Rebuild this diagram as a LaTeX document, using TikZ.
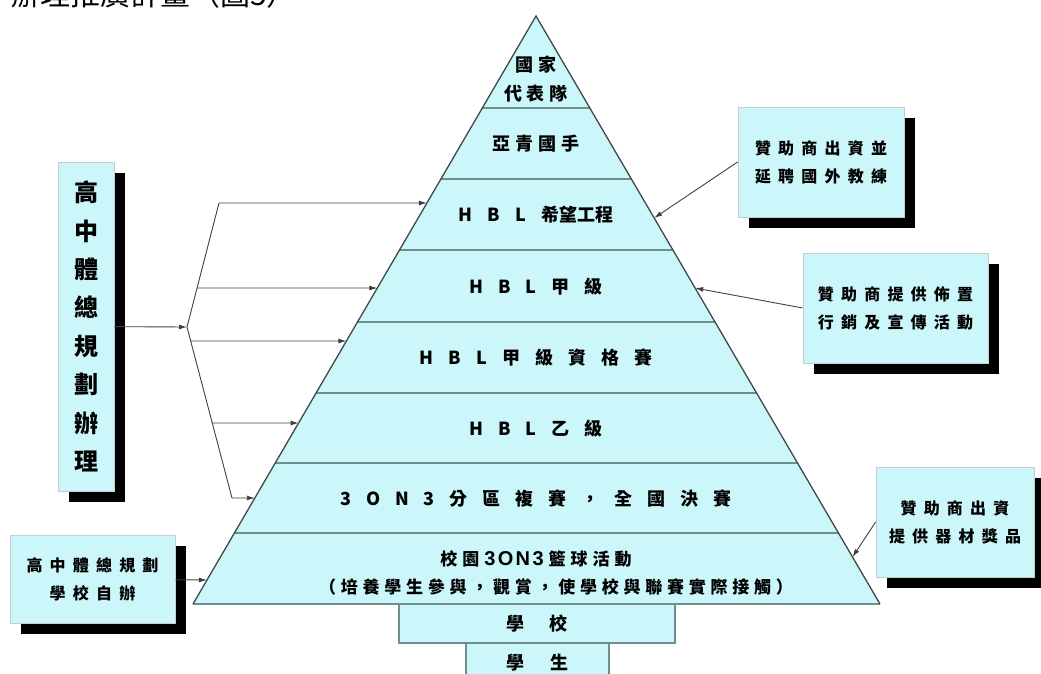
\documentclass[tikz,border=0pt]{standalone}
\usepackage{fontspec}
\newfontfamily\cjk{Noto Sans CJK TC}
\newfontfamily\cjksp[LetterSpace=45]{Noto Sans CJK TC}
\newfontfamily\cjkbtm[LetterSpace=28]{Noto Sans CJK TC}
\newfontfamily\numfont[LetterSpace=12]{Liberation Sans}
\usetikzlibrary{calc,shadows,arrows.meta}
\definecolor{pyrfill}{RGB}{204,247,250}
\definecolor{boxline}{RGB}{196,206,206}
\definecolor{layline}{RGB}{112,142,142}
\definecolor{edgeline}{RGB}{62,72,72}
\definecolor{linkgray}{RGB}{64,64,64}
\tikzset{
  sidebox/.style={draw=boxline,fill=pyrfill,line width=0.8pt,inner sep=0pt,
    align=center,drop shadow={shadow xshift=11pt,shadow yshift=-11pt,fill=black,opacity=1},
    font={\cjksp\bfseries\fontsize{16}{28}\selectfont}},
  lowbox/.style={draw=layline,fill=pyrfill,line width=1.2pt,inner sep=0pt,
    font={\cjk\bfseries\fontsize{18}{20}\selectfont\spaceskip=26pt\relax}},
  laytext/.style={inner sep=0pt,align=center,
    font={\cjk\bfseries\fontsize{18}{29}\selectfont\spaceskip=15pt\relax}},
  tighttext/.style={laytext,font={\cjk\bfseries\fontsize{18}{29}\selectfont\spaceskip=5pt\relax}},
  arr/.style={draw=linkgray,line width=0.9pt,-{Latex[length=8pt,width=5pt]}}
}
\begin{document}
\begin{tikzpicture}[x=1pt,y=-1pt]
\useasboundingbox (0,0) rectangle (1041,673);
\node[anchor=base west,inner sep=0pt,font=\cjk\fontsize{30}{32}\selectfont] (title)
  at (10,5) {辦理推廣計畫（圖5）};
% pyramid
\coordinate (A) at (536,16);
\coordinate (L) at (193,604);
\coordinate (R) at (880,604);
\fill[pyrfill] (A) -- (L) -- (R) -- cycle;
\foreach \f in {0.1565,0.2772,0.398,0.5204,0.6412,0.760,0.8793}
  \draw[layline,line width=1.5pt] ($(A)!\f!(L)$) -- ($(A)!\f!(R)$);
\draw[layline,line width=1.5pt] (L) -- (R);
\draw[edgeline,line width=1.3pt] (L) -- (A) -- (R);
\node[lowbox,minimum width=143pt,minimum height=40pt] (student) at (537.5,663) {學 生};
\node[lowbox,minimum width=276pt,minimum height=39pt] (school) at (537,623.5) {學 校};
\node[tighttext] (team) at (536,79.5) {國 家\\代 表 隊};
\node[tighttext] (youth) at (536,143.5) {亞 青 國 手};
\node[laytext] (hope) at (536,214.5) {H B L 希望工程};
\node[laytext] (hblA) at (536,287) {H B L 甲 級};
\node[laytext] (hblQ) at (536,357.5) {H B L 甲 級 資 格 賽};
\node[laytext] (hblB) at (536,428.5) {H B L 乙 級};
\node[laytext] (final) at (536,499) {3 O N 3 分 區 複 賽 ， 全 國 決 賽};
\node[anchor=base,inner sep=0pt,font={\cjk\bfseries\fontsize{17}{20}\selectfont\spaceskip=5pt\relax}]
  (campus) at (536,565) {校 園 {\numfont\bfseries\fontsize{20}{20}\selectfont 3ON3} 籃 球 活 動};
\node[inner sep=0pt,font=\cjkbtm\bfseries\fontsize{17}{20}\selectfont] (aim)
  at (556,587) {（培養學生參與，觀賞，使學校與聯賽實際接觸）};
% boxes round it
\node[sidebox,minimum width=56pt,minimum height=329pt,
  font=\cjk\bfseries\fontsize{24}{38.4}\selectfont] (plan) at (86,326.5)
  {高\\中\\體\\總\\規\\劃\\辦\\理};
\node[sidebox,minimum width=165pt,minimum height=88pt] (self) at (92.5,579)
  {高中體總規劃\\學校自辦};
\node[sidebox,minimum width=166pt,minimum height=110pt] (spA) at (821,162)
  {贊助商出資並\\延聘國外教練};
\node[sidebox,minimum width=185pt,minimum height=110pt] (spB) at (895.5,308)
  {贊助商提供佈置\\行銷及宣傳活動};
\node[sidebox,minimum width=158pt,minimum height=110pt] (spC) at (955,522)
  {贊助商出資\\提供器材獎品};
% connectors
\coordinate (J) at (187,327);
\coordinate (U) at (219,203);
\coordinate (D) at (232,498);
\coordinate (l203) at ($(A)!0.318!(L)$);
\coordinate (l288) at ($(A)!0.4626!(L)$);
\coordinate (l341) at ($(A)!0.5527!(L)$);
\coordinate (l423) at ($(A)!0.6922!(L)$);
\coordinate (l498) at ($(A)!0.8197!(L)$);
\coordinate (l580) at ($(A)!0.9592!(L)$);
\coordinate (r218) at ($(A)!0.3435!(R)$);
\coordinate (r288) at ($(A)!0.4626!(R)$);
\coordinate (r557) at ($(A)!0.9201!(R)$);
\draw[arr] (plan) -- (J);
\draw[linkgray,line width=0.9pt] (U) -- (J) -- (D);
\draw[arr] (U) -- (l203);
\draw[arr] ($(J)!0.3145!(U)$) -- (l288);
\draw[arr] ($(J)!0.0819!(D)$) -- (l341);
\draw[arr] ($(J)!0.5614!(D)$) -- (l423);
\draw[arr] (D) -- (l498);
\draw[arr] (self) -- (l580);
\draw[arr] (spA.west) -- (r218);
\draw[arr] (spB.west) -- (r288);
\draw[arr] (spC.west) -- (r557);
\end{tikzpicture}
\end{document}
